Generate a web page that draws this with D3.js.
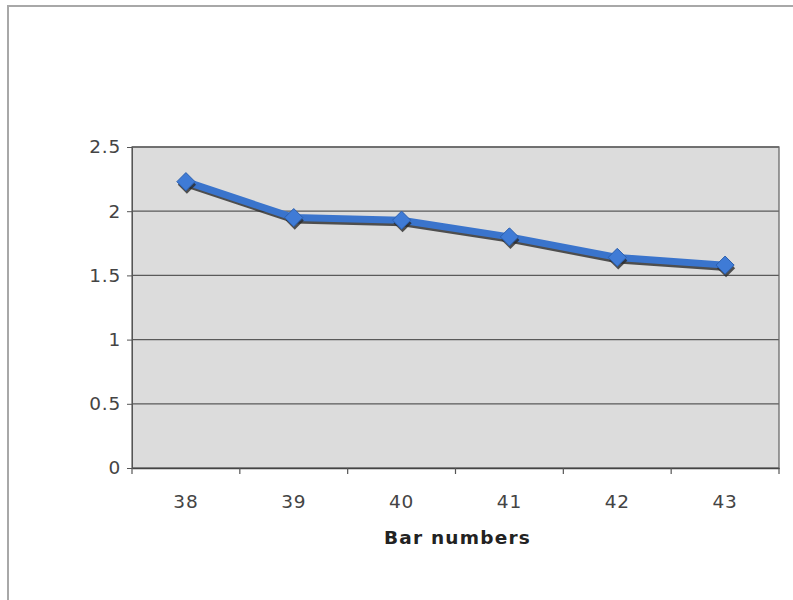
<!DOCTYPE html>
<html><head><meta charset="utf-8">
<script src="https://cdn.jsdelivr.net/npm/d3@7"></script>
<style>body{margin:0;background:#fff}svg{display:block}</style>
</head><body>
<svg id="c" width="793" height="600"></svg>
<script>
const categories = ["38","39","40","41","42","43"];
const values = [2.23, 1.95, 1.93, 1.80, 1.64, 1.58];
const yTicks = [0, 0.5, 1, 1.5, 2, 2.5];
const xTitle = "Bar numbers";

const svg = d3.select("#c");
const L = 132, R = 779, T = 147, B = 468;
const font = "'DejaVu Sans', Verdana, sans-serif";

svg.append("rect").attr("x",8).attr("y",6).attr("width",800).attr("height",610)
  .attr("fill","#fff").attr("stroke","#a8a8a8").attr("stroke-width",2);

const x = d3.scaleBand().domain(categories).range([L,R]);
const y = d3.scaleLinear().domain([0,2.5]).range([B,T]);

svg.append("rect").attr("x",L).attr("y",T).attr("width",R-L).attr("height",B-T)
  .attr("fill","#dcdcdc");

svg.append("g").selectAll("line").data(yTicks.filter(d=>d>0)).join("line")
  .attr("x1",L).attr("x2",R).attr("y1",d=>y(d)).attr("y2",d=>y(d))
  .attr("stroke","#5a5a5a").attr("stroke-width",1.3);

svg.append("rect").attr("x",L).attr("y",T).attr("width",R-L).attr("height",B-T)
  .attr("fill","none").attr("stroke","#6a6a6a").attr("stroke-width",1.3);

const ya = svg.append("g").attr("transform",`translate(${L},0)`)
  .call(d3.axisLeft(y).tickValues(yTicks).tickSize(5).tickPadding(6).tickFormat(d3.format("")));
ya.select(".domain").attr("stroke","#555");
ya.selectAll(".tick line").attr("stroke","#555");
ya.selectAll("text").attr("font-family",font).attr("font-size",18.5).attr("fill","#444")
  .attr("letter-spacing",0.8);

const xa = svg.append("g").attr("transform",`translate(0,${B})`)
  .call(d3.axisBottom(x).tickSize(0).tickPadding(27));
xa.select(".domain").attr("stroke","#444").attr("stroke-width",1.5);
xa.selectAll("text").attr("font-family",font).attr("font-size",18.5).attr("fill","#444")
  .attr("letter-spacing",0.8);
const bounds = categories.map(c=>x(c)).concat([R]);
svg.append("g").selectAll("line").data(bounds).join("line")
  .attr("x1",d=>d).attr("x2",d=>d).attr("y1",B).attr("y2",B+6)
  .attr("stroke","#555").attr("stroke-width",1.2);

svg.append("text").attr("x",(L+R)/2+2).attr("y",544).attr("text-anchor","middle")
  .attr("font-family",font).attr("font-size",18.5).attr("font-weight","bold").attr("fill","#222")
  .attr("letter-spacing",1.2)
  .text(xTitle);

const cx = d => x(d) + x.bandwidth()/2;
const data = categories.map((c,i)=>({c, v: values[i]}));
const line = d3.line().x(d=>cx(d.c)).y(d=>y(d.v));

// shadow
svg.append("path").datum(data).attr("d",line).attr("transform","translate(1,3)")
  .attr("fill","none").attr("stroke","#2a2a2a").attr("stroke-width",6).attr("opacity",0.8);
svg.append("path").datum(data).attr("d",line)
  .attr("fill","none").attr("stroke","#3a74cc").attr("stroke-width",7).attr("stroke-linejoin","round");

const diamond = d3.symbol().type(d3.symbolDiamond2).size(210);
svg.append("g").selectAll("path").data(data).join("path")
  .attr("d",diamond).attr("transform",d=>`translate(${cx(d.c)+1},${y(d.v)+3})`)
  .attr("fill","#2a2a2a").attr("opacity",0.8);
svg.append("g").selectAll("path").data(data).join("path")
  .attr("d",diamond).attr("transform",d=>`translate(${cx(d.c)},${y(d.v)})`)
  .attr("fill","#3f7bd6").attr("stroke","#2b5fae").attr("stroke-width",1);
</script>
</body></html>
